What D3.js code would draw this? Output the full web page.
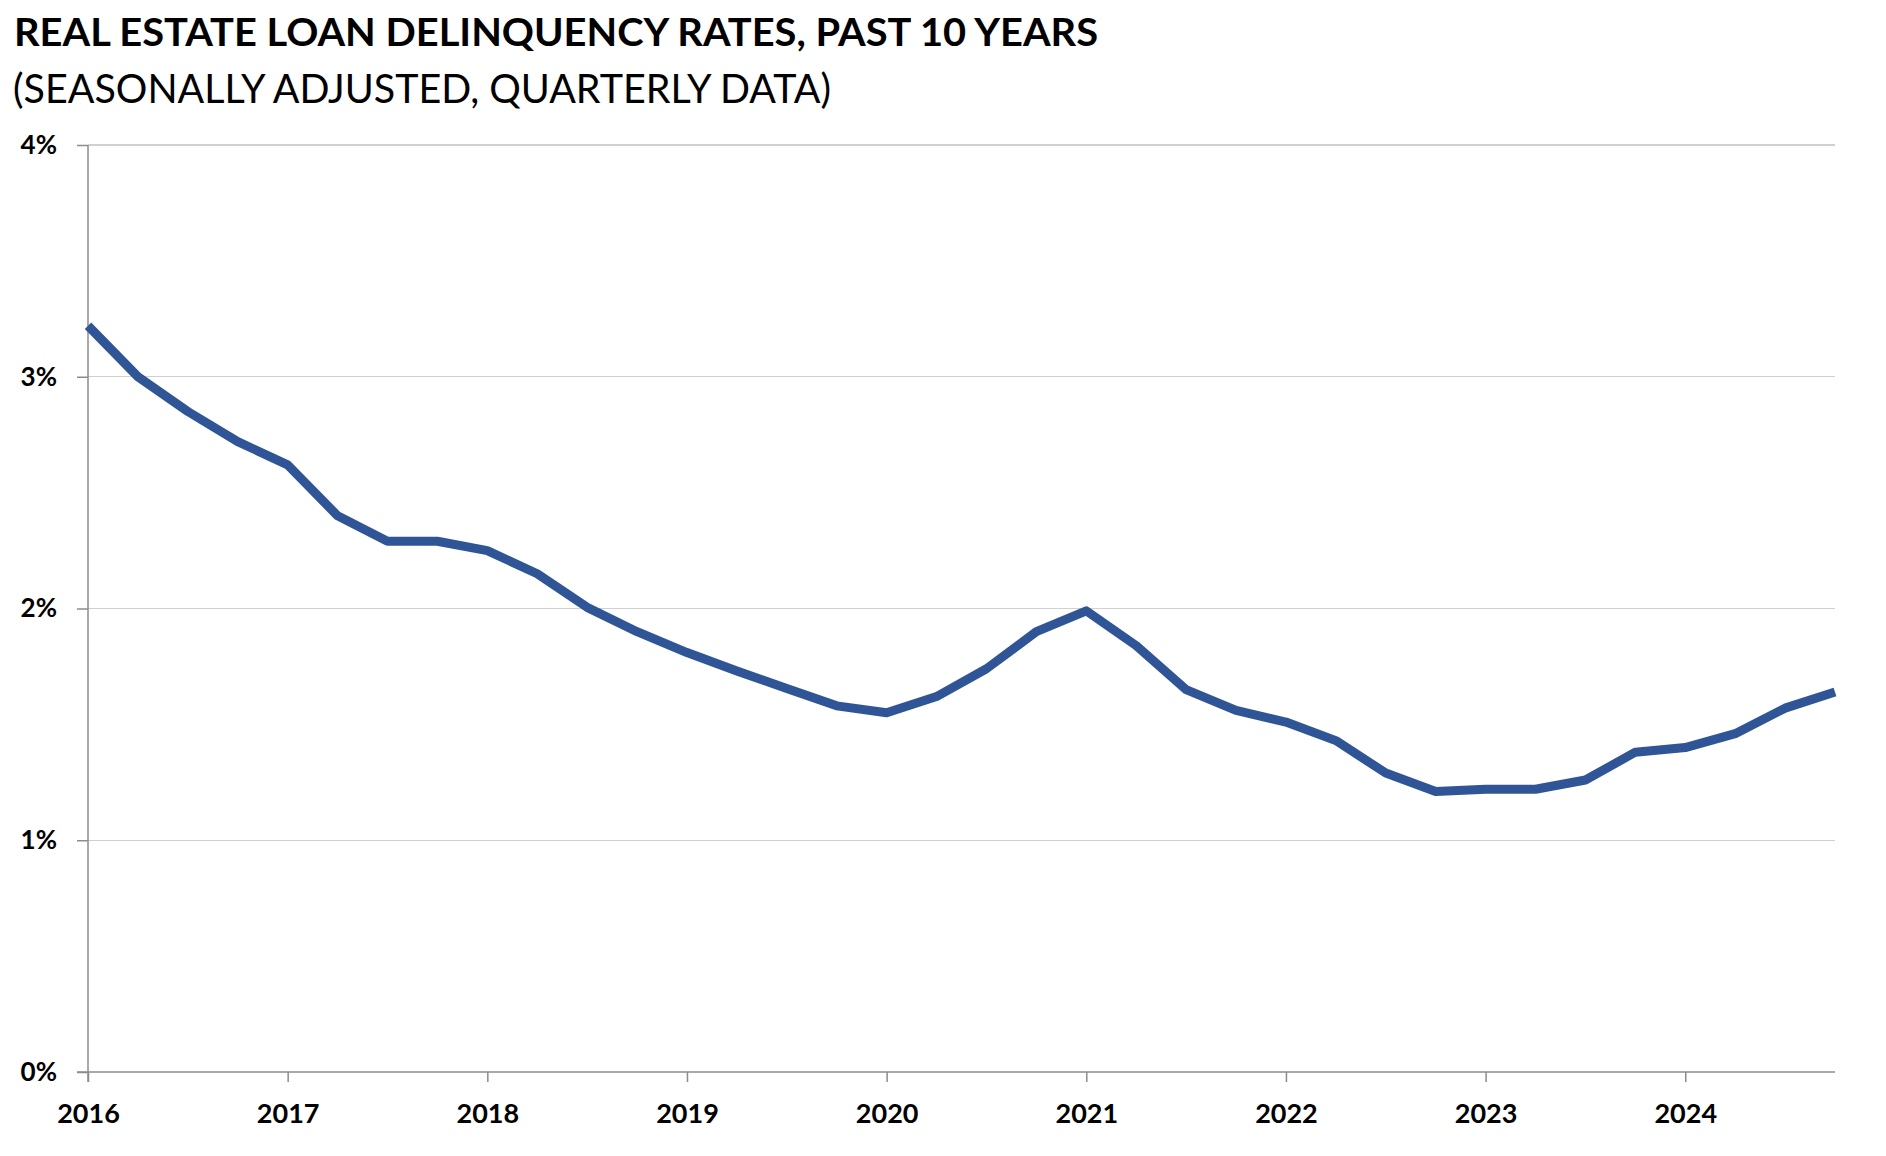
<!DOCTYPE html>
<html>
<head>
<meta charset="utf-8">
<script src="https://cdn.jsdelivr.net/npm/d3@7"></script>
<style>
  html, body { margin: 0; padding: 0; background: #fff; }
  svg { display: block; }
  text { font-family: Lato, "Open Sans", sans-serif; fill: #000; }
</style>
</head>
<body>
<svg id="chart" width="1886" height="1156"></svg>
<script>
// ---- data ----
const years = [2016, 2017, 2018, 2019, 2020, 2021, 2022, 2023, 2024];
const quarters = ["Q1", "Q2", "Q3", "Q4"];
const delinquencyRate = [
  3.22, 3.00, 2.85, 2.72,
  2.62, 2.40, 2.29, 2.29,
  2.25, 2.15, 2.005, 1.90,
  1.81, 1.73, 1.655, 1.58,
  1.55, 1.62, 1.74, 1.90,
  1.99, 1.84, 1.65, 1.56,
  1.51, 1.43, 1.29, 1.21,
  1.22, 1.22, 1.26, 1.38,
  1.40, 1.46, 1.57, 1.64
];
const yTicks = [0, 1, 2, 3, 4];
const titleText = "REAL ESTATE LOAN DELINQUENCY RATES, PAST 10 YEARS";
const subtitleText = "(SEASONALLY ADJUSTED, QUARTERLY DATA)";

(function () {
// ---- build series ----
const series = delinquencyRate.map((v, i) => ({
  t: years[0] + Math.floor(i / 4) + (i % 4) / 4,
  v: v
}));

const svg = d3.select("#chart");
const mLeft = 88, mRight = 1835, mTop = 145, mBottom = 1072;

const x = d3.scaleLinear().domain([2016, 2024.75]).range([mLeft, mRight]);
const y = d3.scaleLinear().domain([0, 4]).range([mBottom, mTop]);

// title
svg.append("text")
  .attr("x", 14).attr("y", 46)
  .attr("font-size", 39).attr("font-weight", 700)
  .attr("textLength", 1084).attr("lengthAdjust", "spacingAndGlyphs")
  .text(titleText);
svg.append("text")
  .attr("x", 13).attr("y", 103)
  .attr("font-size", 40).attr("font-weight", 400)
  .attr("textLength", 818).attr("lengthAdjust", "spacingAndGlyphs")
  .text(subtitleText);

// gridlines
svg.append("g")
  .selectAll("line")
  .data(yTicks.filter(d => d > 0))
  .join("line")
  .attr("x1", mLeft).attr("x2", mRight)
  .attr("y1", d => y(d)).attr("y2", d => y(d))
  .attr("stroke", "#d0d0d0").attr("stroke-width", 1.2)
  .attr("shape-rendering", "crispEdges");

// y axis
const yAxis = svg.append("g")
  .attr("transform", `translate(${mLeft},0)`)
  .call(d3.axisLeft(y).tickValues(yTicks).tickSize(11).tickPadding(20)
    .tickFormat(d => d + "%"));
yAxis.select(".domain").attr("stroke", "#8c8c8c").attr("stroke-width", 1.5)
  .attr("d", `M0,${mTop}V${mBottom + 10}`);
yAxis.selectAll(".tick line").attr("stroke", "#8c8c8c").attr("stroke-width", 1.5);
yAxis.selectAll(".tick text")
  .attr("font-size", 26).attr("font-weight", 700).attr("fill", "#000")
  .attr("font-family", "Lato, 'Open Sans', sans-serif");

// x axis
const xAxis = svg.append("g")
  .attr("transform", `translate(0,${mBottom})`)
  .call(d3.axisBottom(x).tickValues(years).tickSize(10).tickPadding(22)
    .tickFormat(d3.format("d")));
xAxis.select(".domain").attr("stroke", "#8c8c8c").attr("stroke-width", 1.5)
  .attr("d", `M${mLeft - 11},0H${mRight}`);
xAxis.selectAll(".tick line").attr("stroke", "#8c8c8c").attr("stroke-width", 1.5);
xAxis.selectAll(".tick text")
  .attr("font-size", 27).attr("font-weight", 700).attr("fill", "#000")
  .attr("font-family", "Lato, 'Open Sans', sans-serif");

// line
const line = d3.line().x(d => x(d.t)).y(d => y(d.v));
svg.append("path")
  .datum(series)
  .attr("d", line)
  .attr("fill", "none")
  .attr("stroke", "#2F5597")
  .attr("stroke-width", 9)
  .attr("stroke-linejoin", "round")
  .attr("stroke-linecap", "butt");
})();
</script>
</body>
</html>
